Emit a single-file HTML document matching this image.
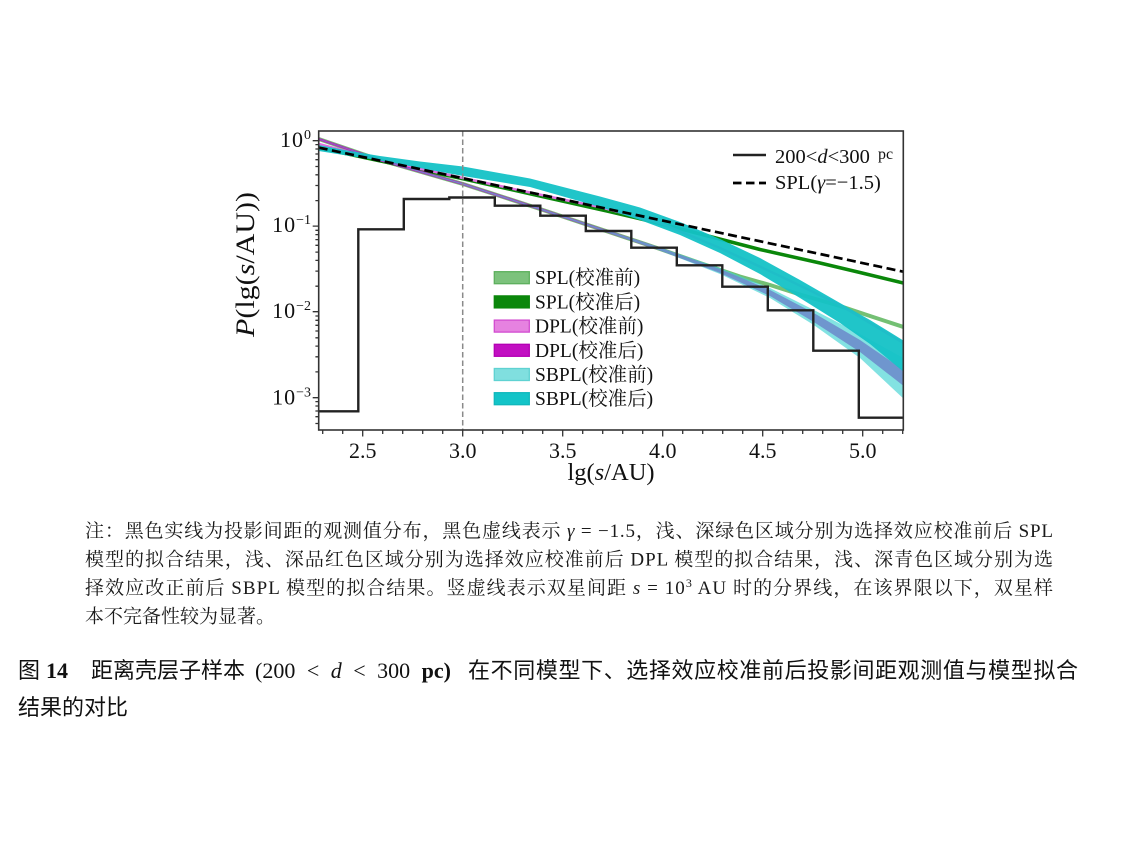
<!DOCTYPE html>
<html><head><meta charset="utf-8"><style>
html,body{margin:0;padding:0;background:#fff;}
svg{display:block;}
</style></head><body>
<svg xmlns="http://www.w3.org/2000/svg" width="1134" height="850" viewBox="0 0 1134 850">
<rect width="1134" height="850" fill="#fff"/>
<defs><clipPath id="pa"><rect x="318.7" y="131" width="584.6" height="299"/></clipPath></defs>

<g clip-path="url(#pa)">
  <!-- SPL before (light green) -->
  <polyline fill="none" stroke="#74c074" stroke-width="4" stroke-linejoin="round" points="318.7,139 380,160 463,184 540,209 600,229 660,249 700,263 740,276.5 770,285 800,294.5 840,306 870,316 905,327.5"/>
  <!-- SPL after (dark green) -->
  <polyline fill="none" stroke="#0a870a" stroke-width="3.5" stroke-linejoin="round" points="318.7,147.8 400,165.2 463,178.8 540,196 607,211 660,223.5 710,236.5 760,249.5 820,263 860,272.5 905,283.4"/>
  <!-- DPL before (light magenta) -->
  <polyline fill="none" stroke="#e070e0" stroke-width="2.5" stroke-linejoin="round" points="318.7,144 380,160 463,178 530,192.5 570,201 600,207 660,223 720,248 780,276 840,305 905,344"/>
  <!-- DPL after (dark magenta band) -->
  <polygon fill="#c010c0" fill-opacity="0.9" points="318.7,137.7 380,158.7 463,182.7 540,207.7 600,227.7 660,247.5 720,269 770,290 813,312.5 860,340 905,371 905,387 860,352 813,321.5 770,296 720,273 660,250.5 600,230.3 540,210.3 463,185.3 380,161.3 318.7,140.3"/>
  <!-- SBPL before (light cyan band) -->
  <polygon fill="#40d2d2" fill-opacity="0.65" points="318.7,138.7 380,159.6 463,183.4 540,208.3 600,228.1 660,247.5 720,268 770,288 813,309.5 860,334 905,359 905,400 860,358 813,324.5 770,298 720,274 660,250.5 600,229.9 540,209.7 463,184.6 380,160.4 318.7,139.3"/>
  <!-- SBPL after (dark cyan band) -->
  <polygon fill="#14c2c6" fill-opacity="0.95" points="318.7,145 350,151 380,156 420,161.5 463,166.5 530,178.5 600,196.5 640,207.5 680,222 720,239 760,258 800,280 840,303 870,320 905,341.5 905,373 870,344 840,323 800,298 760,274 720,253 680,235 640,220 600,207 530,187 463,176 420,168 380,160.5 350,156 318.7,151"/>
  <!-- histogram -->
  <path d="M316,411.3 H358.3 V229.3 H403.8 V199 H449.3 V197.5 H494.8 V205.7 H540.3 V215.7 H585.8 V231 H631.3 V247.7 H676.8 V265.3 H722.3 V286.7 H767.8 V310.3 H813.3 V350.7 H858.8 V417.7 H906" fill="none" stroke="#222" stroke-width="2.4"/>
  <!-- SPL gamma=-1.5 dashed -->
  <path d="M318.7,147.6 L903.3,271.7" stroke="#000" stroke-width="2.7" stroke-dasharray="9 4.5" fill="none"/>
  <!-- vertical gray dashed -->
  <path d="M462.7,131 V430" stroke="#8a8a8a" stroke-width="1.5" stroke-dasharray="5.5 3" fill="none"/>
</g>

<!-- frame -->
<rect x="318.7" y="131" width="584.6" height="299" fill="none" stroke="#333" stroke-width="1.6"/>

<!-- x ticks -->
<g stroke="#333" stroke-width="1.3">
  <path d="M362.7,430v6.5M462.7,430v6.5M562.7,430v6.5M662.7,430v6.5M762.7,430v6.5M862.7,430v6.5"/>
  <path d="M322.7,430v4M342.7,430v4M382.7,430v4M402.7,430v4M422.7,430v4M442.7,430v4M482.7,430v4M502.7,430v4M522.7,430v4M542.7,430v4M582.7,430v4M602.7,430v4M622.7,430v4M642.7,430v4M682.7,430v4M702.7,430v4M722.7,430v4M742.7,430v4M782.7,430v4M802.7,430v4M822.7,430v4M842.7,430v4M882.7,430v4M902.7,430v4"/>
  <!-- y ticks -->
  <path d="M318.7,140.7h-6M318.7,226.1h-6M318.7,311.7h-6M318.7,397.7h-6"/>
  <path d="M318.7,423.5h-3.3M318.7,416.7h-3.3M318.7,411h-3.3M318.7,406h-3.3M318.7,401.6h-3.3
           M318.7,371.9h-3.3M318.7,356.8h-3.3M318.7,346.1h-3.3M318.7,337.8h-3.3M318.7,331h-3.3M318.7,325.3h-3.3M318.7,320.3h-3.3M318.7,316h-3.3
           M318.7,286.2h-3.3M318.7,271.1h-3.3M318.7,260.4h-3.3M318.7,252.1h-3.3M318.7,245.3h-3.3M318.7,239.6h-3.3M318.7,234.6h-3.3M318.7,230.3h-3.3
           M318.7,200.6h-3.3M318.7,185.5h-3.3M318.7,174.8h-3.3M318.7,166.5h-3.3M318.7,159.7h-3.3M318.7,154h-3.3M318.7,149h-3.3M318.7,144.6h-3.3"/>
</g>

<!-- x tick labels -->
<g font-family="'Liberation Serif', serif" font-size="22" fill="#111" text-anchor="middle">
  <text x="362.7" y="458">2.5</text>
  <text x="462.7" y="458">3.0</text>
  <text x="562.7" y="458">3.5</text>
  <text x="662.7" y="458">4.0</text>
  <text x="762.7" y="458">4.5</text>
  <text x="862.7" y="458">5.0</text>
</g>
<!-- y tick labels -->
<g font-family="'Liberation Serif', serif" font-size="22" fill="#111" text-anchor="end">
  <text x="311" y="146.8" letter-spacing="1">10<tspan font-size="14" dy="-8" letter-spacing="0">0</tspan></text>
  <text x="311" y="232.2" letter-spacing="1">10<tspan font-size="14" dy="-8" letter-spacing="0">−1</tspan></text>
  <text x="311" y="318" letter-spacing="1">10<tspan font-size="14" dy="-8" letter-spacing="0">−2</tspan></text>
  <text x="311" y="404.5" letter-spacing="1">10<tspan font-size="14" dy="-8" letter-spacing="0">−3</tspan></text>
</g>

<!-- axis labels -->
<text x="611" y="480" text-anchor="middle" font-family="'Liberation Serif', serif" font-size="24.5" fill="#111">lg(<tspan font-style="italic">s</tspan>/AU)</text>
<text transform="translate(254,337) rotate(-90)" font-family="'Liberation Serif', serif" font-size="26" fill="#111" textLength="145" lengthAdjust="spacingAndGlyphs"><tspan font-style="italic">P</tspan>(lg(<tspan font-style="italic">s</tspan>/AU))</text>

<!-- upper-right legend -->
<path d="M733,155 H766" stroke="#222" stroke-width="2.4"/>
<path d="M733,183 H766" stroke="#000" stroke-width="2.7" stroke-dasharray="8.5 4.5"/>
<g font-family="'Liberation Serif', serif" font-size="20.5" fill="#111">
  <text x="775" y="163">200&lt;<tspan font-style="italic">d</tspan>&lt;300</text>
  <text x="878" y="159" font-size="16">pc</text>
  <text x="775" y="189">SPL(<tspan font-style="italic">γ</tspan>=−1.5)</text>
</g>

<!-- band legend -->
<g stroke-width="1.3">
  <rect x="494.3" y="271.7" width="35" height="12" fill="#7cc27c" stroke="#5cb05c"/>
  <rect x="494.3" y="295.9" width="35" height="12" fill="#0b870b" stroke="#0b870b"/>
  <rect x="494.3" y="320.1" width="35" height="12" fill="#e682e0" stroke="#d24cd0"/>
  <rect x="494.3" y="344.3" width="35" height="12" fill="#c20fc2" stroke="#b400b4"/>
  <rect x="494.3" y="368.5" width="35" height="12" fill="#80dfdf" stroke="#5fd2d2"/>
  <rect x="494.3" y="392.7" width="35" height="12" fill="#13c4c8" stroke="#10b8bc"/>
</g>
<g font-family="'Liberation Serif', 'Noto Serif CJK SC', serif" font-size="19.5" fill="#111">
  <text x="535" y="284.2">SPL(校准前)</text>
  <text x="535" y="308.4">SPL(校准后)</text>
  <text x="535" y="332.6">DPL(校准前)</text>
  <text x="535" y="356.8">DPL(校准后)</text>
  <text x="535" y="381">SBPL(校准前)</text>
  <text x="535" y="405.2">SBPL(校准后)</text>
</g>

<!-- note caption -->
<g font-family="'Liberation Serif', 'Noto Serif CJK SC', serif" font-size="19" fill="#1a1a1a">
  <text x="85" y="537" textLength="968" lengthAdjust="spacing">注：黑色实线为投影间距的观测值分布，黑色虚线表示 <tspan font-style="italic">γ</tspan> = −1.5，浅、深绿色区域分别为选择效应校准前后 SPL</text>
  <text x="85" y="565.5" textLength="968" lengthAdjust="spacing">模型的拟合结果，浅、深品红色区域分别为选择效应校准前后 DPL 模型的拟合结果，浅、深青色区域分别为选</text>
  <text x="85" y="594" textLength="968" lengthAdjust="spacing">择效应改正前后 SBPL 模型的拟合结果。竖虚线表示双星间距 <tspan font-style="italic">s</tspan> = 10<tspan font-size="12" dy="-7">3</tspan><tspan dy="7"> AU 时的分界线，在该界限以下，双星样</tspan></text>
  <text x="85" y="622.5">本不完备性较为显著。</text>
</g>

<!-- figure title -->
<g font-family="'Liberation Serif', 'Noto Sans CJK SC', sans-serif" font-size="22" fill="#111">
  <text x="18" y="678">图</text>
  <text x="46" y="678" font-weight="bold">14</text>
  <text x="91" y="678">距离壳层子样本</text>
  <text x="255" y="678" word-spacing="6">(200 &lt; <tspan font-style="italic">d</tspan> &lt; 300 <tspan font-weight="bold">pc)</tspan></text>
  <text x="468" y="678" textLength="610" lengthAdjust="spacing">在不同模型下、选择效应校准前后投影间距观测值与模型拟合</text>
  <text x="18" y="715">结果的对比</text>
</g>
</svg>
</body></html>
